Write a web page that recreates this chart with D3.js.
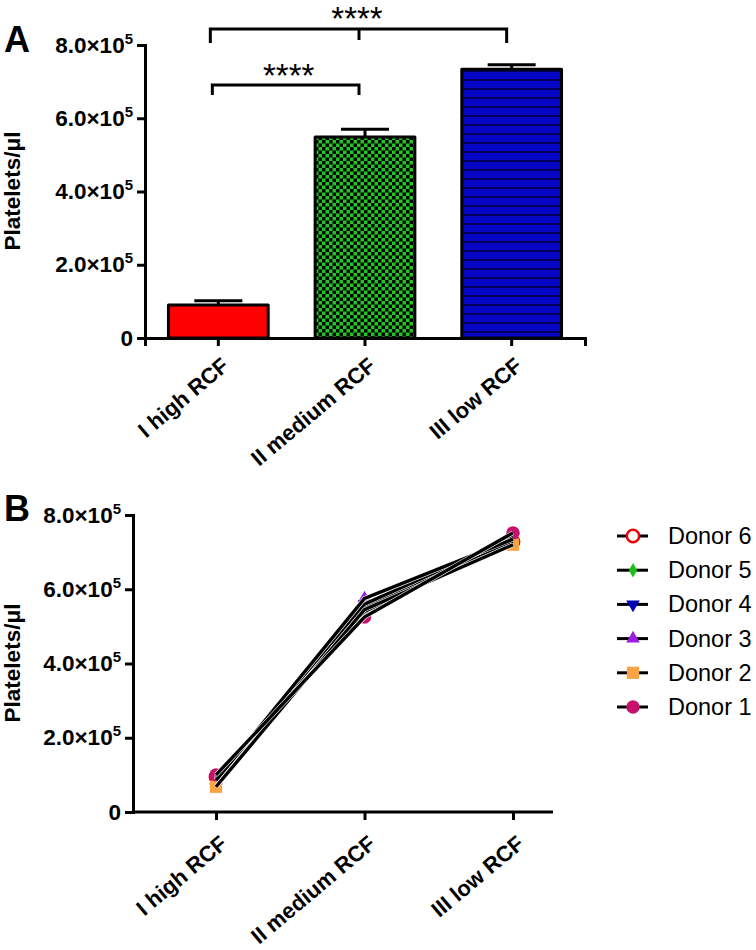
<!DOCTYPE html>
<html>
<head>
<meta charset="utf-8">
<script src="https://cdn.jsdelivr.net/npm/d3@7"></script>
<style>
  body { margin: 0; background: #fff; }
  svg { font-family: "Liberation Sans", Arial, sans-serif; }
</style>
</head>
<body>
<div class="container"></div>
<script>
"use strict";

// data
const categories = ["I high RCF", "II medium RCF", "III low RCF"]
const barMeans = [90000, 549000, 734000]
const barErrors = [12000, 21000, 12000]
const yTicks = [0, 200000, 400000, 600000, 800000]

const donorNames = ["Donor 6", "Donor 5", "Donor 4", "Donor 3", "Donor 2", "Donor 1"]
const donor6 = [95000, 540000, 728000]
const donor5 = [88000, 550000, 730000]
const donor4 = [90000, 560000, 740000]
const donor3 = [85000, 575000, 735000]
const donor2 = [68000, 545000, 720000]
const donor1 = [100000, 525000, 752000]
const donorValues = [donor6, donor5, donor4, donor3, donor2, donor1]

const donorColors = ["#e8000b", "#18c018", "#0000b4", "#9a1ee0", "#f9a346", "#c8116c"]
const donorSymbols = [d3.symbolCircle, d3.symbolDiamond, d3.symbolTriangle, d3.symbolTriangle, d3.symbolSquare, d3.symbolCircle]
const symbolSizes = [120, 60, 80, 80, 150, 140]

const p = {
	width: 756,
	height: 950,
	axisWidth: 3,
	tickLen: 8,
	tickFont: 22.5,
	labelFont: 22,
	labelAngle: -40
}

const svg = d3.select('.container')
	.append('svg')
	.attr('width', p.width)
	.attr('height', p.height)

// patterns for the bars
const defs = svg.append('defs')
const checker = defs.append('pattern')
	.attr('id', 'checker')
	.attr('patternUnits', 'userSpaceOnUse')
	.attr('width', 7).attr('height', 7)
checker.append('rect').attr('width', 7).attr('height', 7).attr('fill', '#22c622')
checker.append('rect').attr('width', 3.5).attr('height', 3.5).attr('fill', '#000')
checker.append('rect').attr('x', 3.5).attr('y', 3.5).attr('width', 3.5).attr('height', 3.5).attr('fill', '#000')

const stripes = defs.append('pattern')
	.attr('id', 'stripes')
	.attr('patternUnits', 'userSpaceOnUse')
	.attr('width', 9).attr('height', 9)
stripes.append('rect').attr('width', 9).attr('height', 9).attr('fill', '#0606c4')
stripes.append('rect').attr('y', 7).attr('width', 9).attr('height', 2).attr('fill', '#00005a')

const barFills = ['#ff0000', 'url(#checker)', 'url(#stripes)']

// tick label like 8.0x10^5
function sciLabel(sel) {
	sel.each(function(v) {
		const t = d3.select(this).text(null)
		if (v === 0) {
			t.text('0')
			return
		}
		t.append('tspan').text((v / 1e5).toFixed(1) + '\u00d710')
		t.append('tspan').attr('dy', -9).attr('font-size', 15).text('5')
	})
}

function styleAxis(g) {
	g.select('.domain').attr('stroke-width', p.axisWidth)
	g.selectAll('.tick line').attr('stroke-width', p.axisWidth)
	g.selectAll('text')
		.attr('fill', '#000')
		.attr('font-size', p.tickFont)
		.attr('font-weight', 'bold')
		.attr('font-family', '"Liberation Sans", Arial, sans-serif')
}

function yTitle(x, y) {
	svg.append('text')
		.attr('transform', 'translate(' + x + ',' + y + ') rotate(-90)')
		.attr('text-anchor', 'middle')
		.attr('font-size', 22.5)
		.attr('font-weight', 'bold')
		.text('Platelets/\u03bcl')
}

function xLabels(g, dx, dy) {
	g.selectAll('.tick text')
		.attr('text-anchor', 'end')
		.attr('font-size', p.labelFont)
		.attr('transform', 'translate(' + dx + ',' + dy + ') rotate(' + p.labelAngle + ')')
		.attr('dy', 0)
		.attr('y', 0)
		.attr('x', 0)
}

// ---------- panel A : bars ----------
const xA = d3.scaleBand()
	.domain(categories)
	.range([145, 585])
	.paddingInner(0.32)
	.paddingOuter(0.16)

const yA = d3.scaleLinear()
	.domain([0, 800000])
	.range([338, 45])

const gA = svg.append('g')

// bars
gA.selectAll('.bar')
	.data(barMeans)
	.enter()
	.append('rect')
	.attr('class', 'bar')
	.attr('x', (d, i) => xA(categories[i]))
	.attr('y', d => yA(d))
	.attr('width', xA.bandwidth())
	.attr('height', d => yA(0) - yA(d))
	.attr('fill', (d, i) => barFills[i])
	.attr('stroke', '#000')
	.attr('stroke-width', 3)
	.attr('stroke-linejoin', 'round')

// error bars (upper only)
const capW = 48
barMeans.forEach(function(m, i) {
	const cx = xA(categories[i]) + xA.bandwidth() / 2
	gA.append('line')
		.attr('x1', cx).attr('x2', cx)
		.attr('y1', yA(m)).attr('y2', yA(m + barErrors[i]))
		.attr('stroke', '#000').attr('stroke-width', 3)
	gA.append('line')
		.attr('x1', cx - capW / 2).attr('x2', cx + capW / 2)
		.attr('y1', yA(m + barErrors[i])).attr('y2', yA(m + barErrors[i]))
		.attr('stroke', '#000').attr('stroke-width', 3)
})

const axAy = gA.append('g')
	.attr('transform', 'translate(145,0)')
	.call(d3.axisLeft(yA).tickValues(yTicks).tickSizeOuter(0).tickSize(p.tickLen).tickPadding(4))
styleAxis(axAy)
axAy.selectAll('.tick text').call(sciLabel)

const axAx = gA.append('g')
	.attr('transform', 'translate(0,338)')
	.call(d3.axisBottom(xA).tickSizeOuter(0).tickSize(p.tickLen))
styleAxis(axAx)
xLabels(axAx, 12, 30)

yTitle(20, 191)

svg.append('text')
	.attr('x', 4).attr('y', 52)
	.attr('font-size', 36).attr('font-weight', 'bold')
	.text('A')

// significance brackets
function bracket(x1, x2, y, drop, mid) {
	const g = svg.append('g')
	g.append('path')
		.attr('d', 'M' + x1 + ',' + (y + drop) + 'V' + y + 'H' + x2 + 'V' + (y + drop))
		.attr('fill', 'none').attr('stroke', '#000').attr('stroke-width', 3)
	if (mid !== null) {
		g.append('line')
			.attr('x1', mid).attr('x2', mid)
			.attr('y1', y).attr('y2', y + drop - 3)
			.attr('stroke', '#000').attr('stroke-width', 3)
	}
	return g
}
const c0 = xA(categories[0]) + xA.bandwidth() / 2 - 8
const c1 = xA(categories[1]) + xA.bandwidth() / 2 - 6
const c2 = xA(categories[2]) + xA.bandwidth() / 2 - 5
bracket(c0, c2, 29, 14, c1)
bracket(c0 + 2, c1, 85, 10, null)
svg.append('text').attr('x', c1 - 2).attr('y', 30)
	.attr('text-anchor', 'middle').attr('font-size', 33).text('****')
svg.append('text').attr('x', (c0 + c1) / 2 + 4).attr('y', 87)
	.attr('text-anchor', 'middle').attr('font-size', 33).text('****')

// ---------- panel B : donor lines ----------
const xB = d3.scalePoint()
	.domain(categories)
	.range([216, 513])

const yB = d3.scaleLinear()
	.domain([0, 800000])
	.range([812, 515])

const gB = svg.append('g')

// x axis baseline runs past the last point
gB.append('line')
	.attr('x1', 133).attr('x2', 553)
	.attr('y1', yB(0)).attr('y2', yB(0))
	.attr('stroke', '#000').attr('stroke-width', p.axisWidth)

const axBx = gB.append('g')
	.attr('transform', 'translate(0,812)')
	.call(d3.axisBottom(xB).tickSizeOuter(0).tickSize(p.tickLen))
axBx.select('.domain').remove()
styleAxis(axBx)
xLabels(axBx, 12, 34)

const axBy = gB.append('g')
	.attr('transform', 'translate(133,0)')
	.call(d3.axisLeft(yB).tickValues(yTicks).tickSizeOuter(0).tickSize(p.tickLen).tickPadding(4))
styleAxis(axBy)
axBy.selectAll('.tick text').call(sciLabel)

yTitle(20, 663)

svg.append('text')
	.attr('x', 4).attr('y', 521)
	.attr('font-size', 36).attr('font-weight', 'bold')
	.text('B')

function marker(g, i, x, y) {
	const sym = d3.symbol().type(donorSymbols[i]).size(symbolSizes[i])
	const m = g.append('path')
		.attr('d', sym())
		.attr('transform', 'translate(' + x + ',' + y + ')' + (i === 2 ? ' rotate(180)' : ''))
	if (i === 0) {
		m.attr('fill', '#fff').attr('stroke', donorColors[i]).attr('stroke-width', 2.5)
	} else {
		m.attr('fill', donorColors[i])
	}
}

// symbols first, lines drawn over them
donorValues.forEach(function(vals, i) {
	vals.forEach(function(v, j) {
		marker(gB, i, xB(categories[j]), yB(v))
	})
})

const line = d3.line()
	.x((d, j) => xB(categories[j]))
	.y(d => yB(d))

donorValues.forEach(function(vals) {
	gB.append('path')
		.attr('d', line(vals))
		.attr('fill', 'none').attr('stroke', '#fff').attr('stroke-width', 4.6)
	gB.append('path')
		.attr('d', line(vals))
		.attr('fill', 'none').attr('stroke', '#000').attr('stroke-width', 3.4)
})

// legend
const legend = svg.append('g')
donorNames.forEach(function(name, i) {
	const y = 536 + i * 34.2
	legend.append('line')
		.attr('x1', 617).attr('x2', 648)
		.attr('y1', y).attr('y2', y)
		.attr('stroke', '#000').attr('stroke-width', 3)
	marker(legend, i, 633, y)
	legend.append('text')
		.attr('x', 668).attr('y', y + 8)
		.attr('font-size', 23.5)
		.text(name)
})
</script>
</body>
</html>
